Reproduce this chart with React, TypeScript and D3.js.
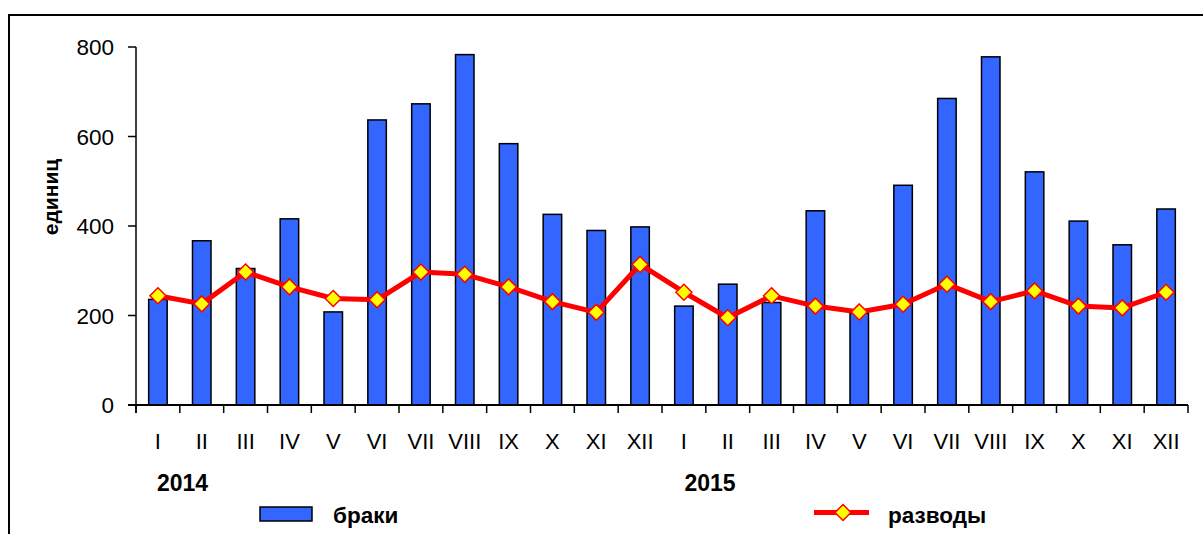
import React from "react";
import * as d3 from "d3";

const W = 1203;
const H = 534;

const months = ["I", "II", "III", "IV", "V", "VI", "VII", "VIII", "IX", "X", "XI", "XII"];
const years = ["2014", "2015"];
const categories = years.flatMap((y) => months.map((m) => `${y}-${m}`));

const marriages = [236, 367, 305, 416, 208, 637, 673, 783, 584, 426, 390, 398,
    221, 270, 229, 434, 205, 491, 685, 778, 521, 411, 358, 438];
const divorces = [244, 226, 297, 264, 238, 235, 297, 292, 264, 231, 207, 314,
    252, 195, 244, 221, 208, 225, 270, 231, 255, 221, 217, 252];
const yTicks = [0, 200, 400, 600, 800];

const FONT = "Arial, 'Liberation Sans', sans-serif";

function App() {
    const x = d3.scaleBand().domain(categories).range([136, 1188]).paddingInner(0).paddingOuter(0);
    const y = d3.scaleLinear().domain([0, 800]).range([405, 47]);
    const bw = x.bandwidth();
    const barW = 18.5;

    const line = d3.line<number>()
        .x((d, i) => x(categories[i])! + bw / 2)
        .y((d) => y(d));

    const diamond = (cx: number, cy: number, r: number) =>
        `M${cx},${cy - r}L${cx + r},${cy}L${cx},${cy + r}L${cx - r},${cy}Z`;

    return (
        <svg width={W} height={H} style={{ position: "absolute", left: 0, top: 0 }} fontFamily={FONT}>
            <rect x={0} y={0} width={W} height={H} fill="#fff" />
            {/* frame, only top + left visible */}
            <path d={`M9,${H}V15H${W}`} fill="none" stroke="#000" strokeWidth={2} />

            {/* bars */}
            {marriages.map((v, i) => (
                <rect key={i}
                    x={x(categories[i])! + bw / 2 - barW / 2}
                    y={y(v)}
                    width={barW}
                    height={y(0) - y(v)}
                    fill="#3366ff" stroke="#000" strokeWidth={1.5} />
            ))}

            {/* y axis */}
            <line x1={136} x2={136} y1={y(800)} y2={413} stroke="#000" strokeWidth={1.5} />
            {yTicks.map((t) => (
                <g key={t}>
                    <line x1={128} x2={136} y1={y(t)} y2={y(t)} stroke="#000" strokeWidth={1.5} />
                    <text x={114} y={y(t)} dy="0.36em" textAnchor="end" fontSize={22.5} fill="#000">{t}</text>
                </g>
            ))}

            {/* x axis */}
            <line x1={128} x2={1188} y1={y(0)} y2={y(0)} stroke="#000" strokeWidth={2} />
            {d3.range(categories.length + 1).map((i) => (
                <line key={i} x1={136 + bw * i} x2={136 + bw * i} y1={y(0)} y2={413} stroke="#000" strokeWidth={1.5} />
            ))}
            {categories.map((c, i) => (
                <text key={c} x={x(c)! + bw / 2} y={449} textAnchor="middle" fontSize={22} fill="#000">
                    {months[i % 12]}
                </text>
            ))}
            <text x={182.5} y={491} textAnchor="middle" fontSize={23} fontWeight="bold">{years[0]}</text>
            <text x={710} y={491} textAnchor="middle" fontSize={23} fontWeight="bold">{years[1]}</text>

            {/* y title */}
            <text transform="translate(58,197) rotate(-90)" textAnchor="middle" fontSize={21} fontWeight="bold">единиц</text>

            {/* divorces line */}
            <path d={line(divorces)!} fill="none" stroke="#ff0000" strokeWidth={5} strokeLinejoin="round" />
            {divorces.map((v, i) => (
                <path key={i} d={diamond(x(categories[i])! + bw / 2, y(v), 8)}
                    fill="#ffff00" stroke="#ff0000" strokeWidth={1.5} />
            ))}

            {/* legend */}
            <rect x={260} y={507} width={52} height={14} fill="#3366ff" stroke="#000" strokeWidth={1.5} />
            <text x={333} y={523} fontSize={22.5} fontWeight="bold">браки</text>
            <line x1={814} x2={869} y1={512.5} y2={512.5} stroke="#ff0000" strokeWidth={5} />
            <path d={diamond(843, 512.5, 8)} fill="#ffff00" stroke="#ff0000" strokeWidth={1.5} />
            <text x={888} y={523} fontSize={22.5} fontWeight="bold">разводы</text>
        </svg>
    );
}

export default App;
